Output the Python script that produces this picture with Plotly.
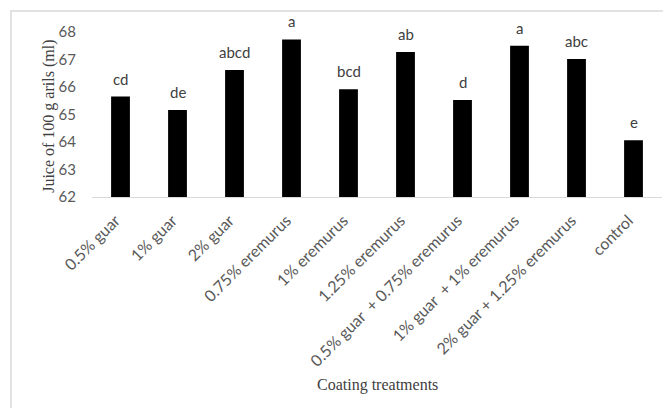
import plotly.graph_objects as go

categories = ["0.5% guar", "1% guar", "2% guar", "0.75% eremurus", "1% eremurus",
              "1.25% eremurus", "0.5% guar  + 0.75% eremurus", "1% guar  + 1% eremurus",
              "2% guar + 1.25% eremurus", "control"]
juice = [65.65, 65.16, 66.62, 67.73, 65.92, 67.27, 65.53, 67.50, 67.02, 64.06]
letters = ["cd", "de", "abcd", "a", "bcd", "ab", "d", "a", "abc", "e"]
y_ticks = [62, 63, 64, 65, 66, 67, 68]

SANS = "Lato, Calibri, Carlito, sans-serif"
SERIF = "Liberation Serif, Times New Roman, serif"

fig = go.Figure()
fig.add_trace(go.Bar(x=categories, y=juice, marker=dict(color="#000000", line=dict(width=0)),
                     showlegend=False, hoverinfo="x+y"))

for c, v, t in zip(categories, juice, letters):
    fig.add_annotation(x=c, y=v, text=t, showarrow=False, yanchor="bottom", yshift=7,
                       font=dict(family=SANS, size=15, color="#404040"))

fig.add_annotation(xref="paper", yref="paper", x=-0.076, y=0.49, text="Juice of 100 g arils (ml)",
                   xanchor="center", yanchor="middle",
                   textangle=-90, showarrow=False, font=dict(family=SERIF, size=16, color="#404040"))
fig.add_annotation(xref="paper", yref="paper", x=0.5, y=-1.14, text="Coating treatments",
                   xanchor="center", yanchor="middle",
                   showarrow=False, font=dict(family=SERIF, size=16, color="#404040"))

# outer chart border
fig.add_shape(type="rect", xref="paper", yref="paper", x0=-0.1421, x1=1.05, y0=-1.4, y1=1.127,
              line=dict(color="#d9d9d9", width=1.5), fillcolor="rgba(0,0,0,0)", layer="below")

# the page body adds an 8px margin, so the figure is 8px smaller and margins compensate
fig.update_layout(
    width=663, height=400,
    margin=dict(l=84, r=9, t=24, b=211),
    paper_bgcolor="white", plot_bgcolor="white",
    bargap=0.67,
    xaxis=dict(tickangle=-45, tickfont=dict(family=SANS, size=16, color="#595959"),
               showline=True, linecolor="#d9d9d9", linewidth=1, showgrid=False,
               ticks="", ticklabelstandoff=7, ticklabelshift=-5, automargin=False),
    yaxis=dict(range=[62, 68], tickvals=y_ticks, showgrid=False, zeroline=False, showline=False,
               tickfont=dict(family=SANS, size=15, color="#595959"),
               ticks="outside", ticklen=12, tickcolor="rgba(0,0,0,0)",
               automargin=False),
)

fig.write_html("out.html")
